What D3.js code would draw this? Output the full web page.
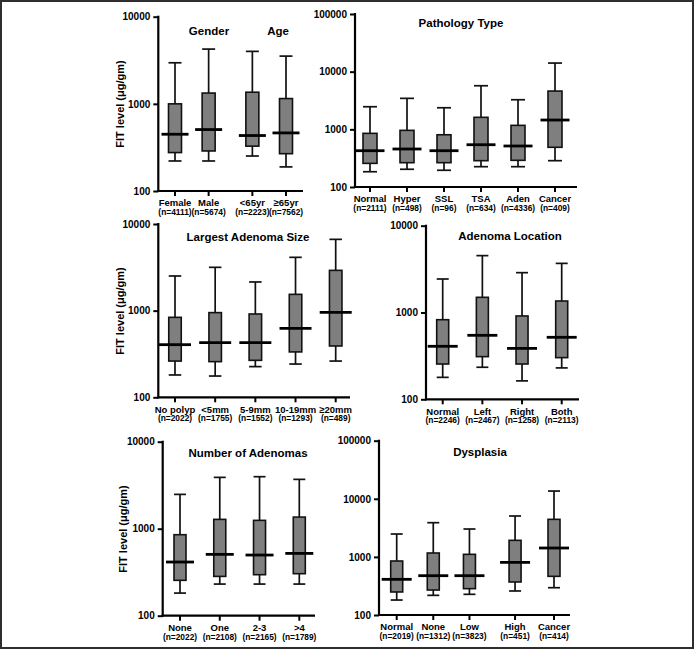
<!DOCTYPE html>
<html><head><meta charset="utf-8">
<script src="https://cdn.jsdelivr.net/npm/d3@7"></script>
<style>
html,body{margin:0;padding:0;background:#fff;}
svg{display:block;font-family:"Liberation Sans",Arial,sans-serif;}
</style></head>
<body>
<svg id="chart" width="694" height="650"></svg>
<script>
// ---------- DATA ----------
// stats: [whisker low, box low (Q1), median, box high (Q3), whisker high]
const genderAgeCats = ["Female","Male","<65yr","≥65yr"];
const genderAgeN = ["(n=4111)","(n=5674)","(n=2223)","(n=7562)"];
const genderAgeStats = [[221,276,448,1000,2960],[221,288,507,1330,4250],[252,327,433,1360,4000],[189,268,464,1150,3530]];

const pathologyCats = ["Normal","Hyper","SSL","TSA","Aden","Cancer"];
const pathologyN = ["(n=2111)","(n=498)","(n=96)","(n=634)","(n=4336)","(n=409)"];
const pathologyStats = [[184,257,426,852,2465],[203,264,456,960,3445],[195,264,426,805,2367],[225,286,541,1615,5700],[225,290,514,1172,3260],[286,488,1450,4610,14100]];

const sizeCats = ["No polyp","<5mm","5-9mm","10-19mm","≥20mm"];
const sizeN = ["(n=2022)","(n=1755)","(n=1552)","(n=1293)","(n=489)"];
const sizeStats = [[181,262,405,837,2512],[176,258,427,949,3162],[226,267,427,915,2143],[242,334,625,1542,4124],[262,391,957,2917,6650]];

const locationCats = ["Normal","Left","Right","Both"];
const locationN = ["(n=2246)","(n=2467)","(n=1258)","(n=2113)"];
const locationStats = [[179,255,408,826,2432],[234,310,546,1496,4520],[163,255,386,912,2877],[230,302,518,1356,3680]];

const numberCats = ["None","One","2-3",">4"];
const numberN = ["(n=2022)","(n=2108)","(n=2165)","(n=1789)"];
const numberStats = [[182,255,414,853,2480],[231,283,507,1280,3890],[231,296,498,1247,3960],[231,304,520,1360,3690]];

const dysplasiaCats = ["Normal","None","Low","High","Cancer"];
const dysplasiaN = ["(n=2019)","(n=1312)","(n=3823)","(n=451)","(n=414)"];
const dysplasiaStats = [[181,249,411,850,2477],[218,269,475,1167,3880],[227,284,475,1107,3020],[259,370,805,1928,5060],[295,463,1422,4430,13600]];

const ticks4 = [100,1000,10000];
const ticks5 = [100,1000,10000,100000];
const yLabel = "FIT level (μg/gm)";

// ---------- LAYOUT ----------
const panels = [
  {cats:genderAgeCats,n:genderAgeN,stats:genderAgeStats,ticks:ticks4,titles:[["Gender",209,31],["Age",278,31]],
   ax:158.3,yTop:16.7,yBot:191,xEnd:303,x1:175,x2:286,slots:[0,1,2.3,3.3],ylab:[120,104],bw:13,mw:27},
  {cats:pathologyCats,n:pathologyN,stats:pathologyStats,ticks:ticks5,titles:[["Pathology Type",461,22.7]],
   ax:355,yTop:14,yBot:187,xEnd:577,x1:370,x2:555,bw:14,mw:29},
  {cats:sizeCats,n:sizeN,stats:sizeStats,ticks:ticks4,titles:[["Largest Adenoma Size",248,236.7]],
   ax:158.3,yTop:224,yBot:397.3,xEnd:350,x1:175,x2:335.7,ylab:[120,311],bw:12.5,mw:32},
  {cats:locationCats,n:locationN,stats:locationStats,ticks:ticks4,titles:[["Adenoma Location",510,236]],
   ax:426,yTop:225.7,yBot:399.3,xEnd:579,x1:442.7,x2:561.7,bw:12,mw:30},
  {cats:numberCats,n:numberN,stats:numberStats,ticks:ticks4,titles:[["Number of Adenomas",248,452.7]],
   ax:162.7,yTop:441.7,yBot:615.7,xEnd:315,x1:180,x2:299.3,ylab:[123,529],bw:12,mw:28},
  {cats:dysplasiaCats,n:dysplasiaN,stats:dysplasiaStats,ticks:ticks5,titles:[["Dysplasia",480,452]],
   ax:379,yTop:440.7,yBot:615,xEnd:570,x1:396.7,x2:554,slots:[0,0.93,1.85,3.01,4],bw:12,mw:30}
];

const svg = d3.select("#chart");
svg.append("rect").attr("x",1).attr("y",1).attr("width",692).attr("height",647)
  .attr("fill","none").attr("stroke","#2e2e2e").attr("stroke-width",2);

panels.forEach(p => {
  const g = svg.append("g");
  const y = d3.scaleLog().domain([p.ticks[0], p.ticks[p.ticks.length-1]]).range([p.yBot, p.yTop]);
  const slots = p.slots || p.cats.map((d,i)=>i);
  const x = d3.scaleLinear().domain([slots[0], slots[slots.length-1]]).range([p.x1, p.x2]);
  const xc = i => x(slots[i]);

  // y axis
  const yAxis = d3.axisLeft(y).tickValues(p.ticks).tickFormat(d3.format("d")).tickSize(5).tickPadding(3);
  const ga = g.append("g").attr("transform",`translate(${p.ax},0)`).call(yAxis);
  ga.select(".domain").remove();
  ga.selectAll(".tick line").attr("stroke","#000").attr("stroke-width",2);
  ga.selectAll(".tick text").attr("font-size",10).attr("font-weight","bold").attr("fill","#000");
  g.append("line").attr("x1",p.ax).attr("x2",p.ax).attr("y1",p.yTop-1).attr("y2",p.yBot+1)
    .attr("stroke","#000").attr("stroke-width",2.2);
  // x axis
  g.append("line").attr("x1",p.ax-1).attr("x2",p.xEnd).attr("y1",p.yBot).attr("y2",p.yBot)
    .attr("stroke","#000").attr("stroke-width",2.2);
  p.cats.forEach((c,i)=>{
    const cx = xc(i);
    g.append("line").attr("x1",cx).attr("x2",cx).attr("y1",p.yBot).attr("y2",p.yBot+5)
      .attr("stroke","#000").attr("stroke-width",2);
    g.append("text").attr("x",cx).attr("y",p.yBot+15.3).attr("text-anchor","middle")
      .attr("font-size",9.5).attr("font-weight","bold").text(c);
    g.append("text").attr("x",cx).attr("y",p.yBot+23.8).attr("text-anchor","middle")
      .attr("font-size",8.4).attr("font-weight","bold").text(p.n[i]);
  });

  // boxes
  p.stats.forEach((s,i)=>{
    const cx = xc(i);
    const [wl,q1,md,q3,wh] = s;
    const bg = g.append("g");
    bg.append("line").attr("x1",cx).attr("x2",cx).attr("y1",y(wh)).attr("y2",y(wl))
      .attr("stroke","#111").attr("stroke-width",1.7);
    [wl,wh].forEach(v=>bg.append("line").attr("x1",cx-p.bw/2).attr("x2",cx+p.bw/2)
      .attr("y1",y(v)).attr("y2",y(v)).attr("stroke","#111").attr("stroke-width",1.7));
    bg.append("rect").attr("x",cx-p.bw/2).attr("width",p.bw).attr("y",y(q3)).attr("height",y(q1)-y(q3))
      .attr("fill","#7f7f7f").attr("stroke","#111").attr("stroke-width",1.6);
    bg.append("line").attr("x1",cx-p.mw/2).attr("x2",cx+p.mw/2).attr("y1",y(md)).attr("y2",y(md))
      .attr("stroke","#000").attr("stroke-width",2.8);
  });

  p.titles.forEach(t=>{
    g.append("text").attr("x",t[1]).attr("y",t[2]+4).attr("text-anchor","middle")
      .attr("font-size",11.5).attr("font-weight","bold").text(t[0]);
  });
  if (p.ylab) {
    g.append("text").attr("transform",`translate(${p.ylab[0]+4},${p.ylab[1]}) rotate(-90)`)
      .attr("text-anchor","middle").attr("font-size",11).attr("font-weight","bold").text(yLabel);
  }
});
</script>
</body></html>
